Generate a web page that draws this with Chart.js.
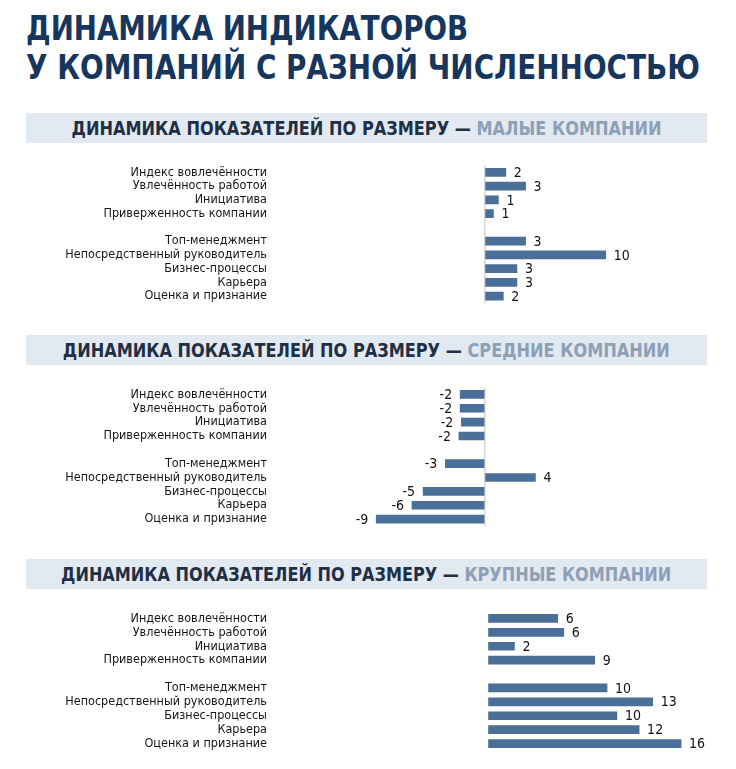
<!DOCTYPE html>
<html lang="ru">
<head>
<meta charset="utf-8">
<title>Динамика индикаторов</title>
<script src="https://cdn.jsdelivr.net/npm/chart.js@4.4.1/dist/chart.umd.min.js"></script>
<style>
html,body{margin:0;padding:0;background:#fff;}
body{width:736px;height:769px;position:relative;overflow:hidden;font-family:"DejaVu Sans Condensed","DejaVu Sans",sans-serif;}
.title{position:absolute;left:26px;font-weight:bold;font-size:34.5px;line-height:34.5px;color:#17365d;white-space:nowrap;}
.title span{display:inline-block;transform-origin:0 50%;}
.band{position:absolute;left:26px;width:681px;height:30px;background:#e2e9f0;display:flex;align-items:center;justify-content:center;}
.band span{display:inline-block;white-space:nowrap;font-weight:bold;font-size:20px;line-height:30px;color:#1f2f45;transform-origin:50% 50%;}
.band em{font-style:normal;color:#8ca0b7;}
.box{position:absolute;left:0;width:736px;height:170px;}
</style>
</head>
<body>
<div class="title" style="top:11px"><span data-w="442">ДИНАМИКА ИНДИКАТОРОВ</span></div>
<div class="title" style="top:50px"><span data-w="674">У КОМПАНИЙ С РАЗНОЙ ЧИСЛЕННОСТЬЮ</span></div>

<div class="band" style="top:113px"><span data-w="590">ДИНАМИКА ПОКАЗАТЕЛЕЙ ПО РАЗМЕРУ — <em>МАЛЫЕ КОМПАНИИ</em></span></div>
<div class="box" style="top:150px"><canvas id="chSmall"></canvas></div>

<div class="band" style="top:335px"><span data-w="607">ДИНАМИКА ПОКАЗАТЕЛЕЙ ПО РАЗМЕРУ — <em>СРЕДНИЕ КОМПАНИИ</em></span></div>
<div class="box" style="top:372px"><canvas id="chMedium"></canvas></div>

<div class="band" style="top:559px"><span data-w="610">ДИНАМИКА ПОКАЗАТЕЛЕЙ ПО РАЗМЕРУ — <em>КРУПНЫЕ КОМПАНИИ</em></span></div>
<div class="box" style="top:596px"><canvas id="chLarge"></canvas></div>

<script>
/* ============================================================
   DATA
   ============================================================ */
// '' = empty row between the two groups of indicators
var categories=['Индекс вовлечённости','Увлечённость работой','Инициатива','Приверженность компании','','Топ-менеджмент','Непосредственный руководитель','Бизнес-процессы','Карьера','Оценка и признание'];
var smallValues=[1.7,3.3,1.1,0.7,null,3.3,9.8,2.6,2.6,1.5];
var mediumValues=[-2.0,-2.0,-1.9,-2.1,null,-3.2,4.1,-5.0,-5.9,-8.8];
var largeValues=[5.6,6.1,2.1,8.6,null,9.6,13.3,10.4,12.2,15.6];

/* ============================================================
   TEXT FITTING
   ============================================================ */
document.querySelectorAll('[data-w]').forEach(function(el){
    var w=el.getBoundingClientRect().width;
    el.style.transform='scaleX('+(parseFloat(el.dataset.w)/w)+')';
});

/* ============================================================
   CHARTS
   ============================================================ */
var FONT='"DejaVu Sans Condensed","DejaVu Sans",sans-serif';
var BAR='#4a6f98';

var valueLabels={
    id:'valueLabels',
    afterDatasetsDraw:function(chart){
        var ctx=chart.ctx;var meta=chart.getDatasetMeta(0);var vals=chart.data.datasets[0].data;
        ctx.save();ctx.font='14px '+FONT;ctx.fillStyle='#111';ctx.textBaseline='middle';
        meta.data.forEach(function(bar,i){
            var v=vals[i];if(v===null||v===undefined)return;
            var neg=v<0;ctx.textAlign=neg?'right':'left';
            ctx.fillText(String(Math.round(v)),bar.x+(neg?-8:8),bar.y+1);
        });
        ctx.restore();
    }
};

function makeChart(id,values,xmin,xmax,pad,zeroLine){
    return new Chart(document.getElementById(id),{
        type:'bar',
        data:{labels:categories,datasets:[{data:values,backgroundColor:BAR,barThickness:8}]},
        options:{
            indexAxis:'y',responsive:true,maintainAspectRatio:false,animation:false,
            layout:{padding:{top:pad[0],bottom:pad[1],left:0,right:29}},
            plugins:{legend:{display:false},tooltip:{enabled:false}},
            scales:{
                x:{type:'linear',min:xmin,max:xmax,
                    ticks:{display:false,stepSize:1},
                    border:{display:false},
                    grid:{drawTicks:false,lineWidth:1.5,color:function(c){return (zeroLine&&c.tick&&c.tick.value===0)?'#d6d6d6':'rgba(0,0,0,0)';}},
                    afterFit:function(s){s.height=0;}},
                y:{ticks:{font:{family:FONT,size:12.5},color:'#161616',padding:8,autoSkip:false},
                    grid:{display:false,drawTicks:false},border:{display:false},
                    afterFit:function(s){s.width=275;}}
            }
        },
        plugins:[valueLabels]
    });
}

makeChart('chSmall',smallValues,-17,18,[14,17],true);
makeChart('chMedium',mediumValues,-17,18,[14,16],true);
makeChart('chLarge',largeValues,-17.3,17.7,[13,10],false);
</script>
</body>
</html>
